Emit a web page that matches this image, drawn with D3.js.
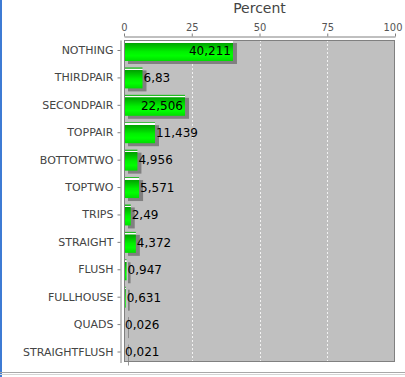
<!DOCTYPE html>
<html><head><meta charset="utf-8">
<script src="https://cdn.jsdelivr.net/npm/d3@7"></script>
<style>body{margin:0;background:#fff;}svg{display:block;font-family:"DejaVu Sans",Verdana,sans-serif;}</style>
</head><body>
<script>
const categories = ["NOTHING","THIRDPAIR","SECONDPAIR","TOPPAIR","BOTTOMTWO","TOPTWO","TRIPS","STRAIGHT","FLUSH","FULLHOUSE","QUADS","STRAIGHTFLUSH"];
const values = [40.211, 6.83, 22.506, 11.439, 4.956, 5.571, 2.49, 4.372, 0.947, 0.631, 0.026, 0.021];
const xTicks = [0, 25, 50, 75, 100];
const axisTitle = "Percent";

const W = 405, H = 377;
const svg = d3.select("body").append("svg").attr("width", W).attr("height", H);

const plot = {left: 124, right: 395, top: 40, bottom: 362};
const x = d3.scaleLinear().domain([0, 100]).range([plot.left, plot.right]);
const y = d3.scaleBand().domain(categories).range([plot.top, plot.bottom + 0.5]).paddingInner(0.234).paddingOuter(0);

// window frame
svg.append("rect").attr("x", 0).attr("y", 0).attr("width", 2).attr("height", H).attr("fill", "#3d7bd4");
svg.append("line").attr("x1", 0).attr("x2", W).attr("y1", 372.5).attr("y2", 372.5).attr("stroke", "#a8a8a8");
svg.append("line").attr("x1", 0).attr("x2", W).attr("y1", 374.5).attr("y2", 374.5).attr("stroke", "#d4d4d4");

const defs = svg.append("defs");
const g = defs.append("linearGradient").attr("id", "barGrad").attr("x1", 0).attr("x2", 0).attr("y1", 0).attr("y2", 1);
[[0, "#22bb22"], [0.05, "#22bb22"], [0.06, "#ffffff"], [0.12, "#ffffff"], [0.13, "#00a000"], [0.55, "#00f000"], [0.75, "#00ff00"], [1, "#00dd00"]]
  .forEach(([o, c]) => g.append("stop").attr("offset", o).attr("stop-color", c));

// plot background
svg.append("rect").attr("x", plot.left).attr("y", plot.top)
  .attr("width", plot.right - plot.left).attr("height", plot.bottom - plot.top)
  .attr("fill", "#c0c0c0");

// gridlines
svg.append("g").selectAll("line").data(xTicks.filter(t => t > 0 && t < 100)).join("line")
  .attr("x1", d => Math.round(x(d)) + 0.5).attr("x2", d => Math.round(x(d)) + 0.5)
  .attr("y1", plot.top).attr("y2", plot.bottom)
  .attr("stroke", "#ffffff").attr("stroke-width", 0.8).attr("stroke-dasharray", "2,2");

// shadows
svg.append("g").selectAll("rect").data(values).join("rect")
  .attr("x", x(0) + 4).attr("y", (d, i) => y(categories[i]) + 3)
  .attr("width", d => Math.max(0.8, x(d) - x(0)))
  .attr("height", y.bandwidth())
  .attr("fill", "#808080");

// bars
svg.append("g").selectAll("rect").data(values).join("rect")
  .attr("x", x(0)).attr("y", (d, i) => y(categories[i]))
  .attr("width", d => x(d) - x(0))
  .attr("height", y.bandwidth())
  .attr("fill", "url(#barGrad)");

// plot border
svg.append("rect").attr("x", plot.left + 0.5).attr("y", plot.top + 0.5)
  .attr("width", plot.right - plot.left - 1).attr("height", plot.bottom - plot.top - 1)
  .attr("fill", "none").attr("stroke", "#808080");

// value labels
const fmt = v => String(v).replace(".", ",");
const lab = svg.append("g").attr("font-size", 12).attr("fill", "#000");
values.forEach((v, i) => {
  const t = lab.append("text").text(fmt(v))
    .attr("y", y(categories[i]) + y.bandwidth() / 2).attr("dy", "0.36em");
  const tw = t.node().getComputedTextLength();
  const bw = x(v) - x(0);
  if (bw > tw + 6) t.attr("x", x(v) - 2).attr("text-anchor", "end");
  else t.attr("x", x(v) + 1).attr("text-anchor", "start");
});

// top axis
const xAxis = svg.append("g").attr("transform", `translate(0,36.5)`)
  .call(d3.axisTop(x).tickValues(xTicks).tickSize(3).tickPadding(3).tickSizeOuter(0));
xAxis.select(".domain").attr("stroke", "#808080");
xAxis.selectAll(".tick line").attr("stroke", "#808080");
xAxis.selectAll("text").attr("font-size", 11).attr("fill", "#555")
  .attr("font-family", "'DejaVu Sans Condensed', 'Liberation Sans', sans-serif");
xAxis.selectAll(".tick").filter(d => d === 100).select("text").attr("dx", -2.5);

svg.append("text").attr("x", (plot.left + plot.right) / 2).attr("y", 13)
  .attr("text-anchor", "middle").attr("font-size", 14).attr("fill", "#444").text(axisTitle);

// left axis
const yAxis = svg.append("g").attr("transform", `translate(120.5,0)`)
  .call(d3.axisLeft(y).tickSize(3).tickPadding(4).tickSizeOuter(0));
yAxis.select(".domain").attr("stroke", "#808080");
yAxis.selectAll(".tick line").attr("stroke", "#808080");
yAxis.selectAll("text").attr("font-size", 11).attr("fill", "#444").attr("font-family", "DejaVu Sans, sans-serif");
</script>
</body></html>
